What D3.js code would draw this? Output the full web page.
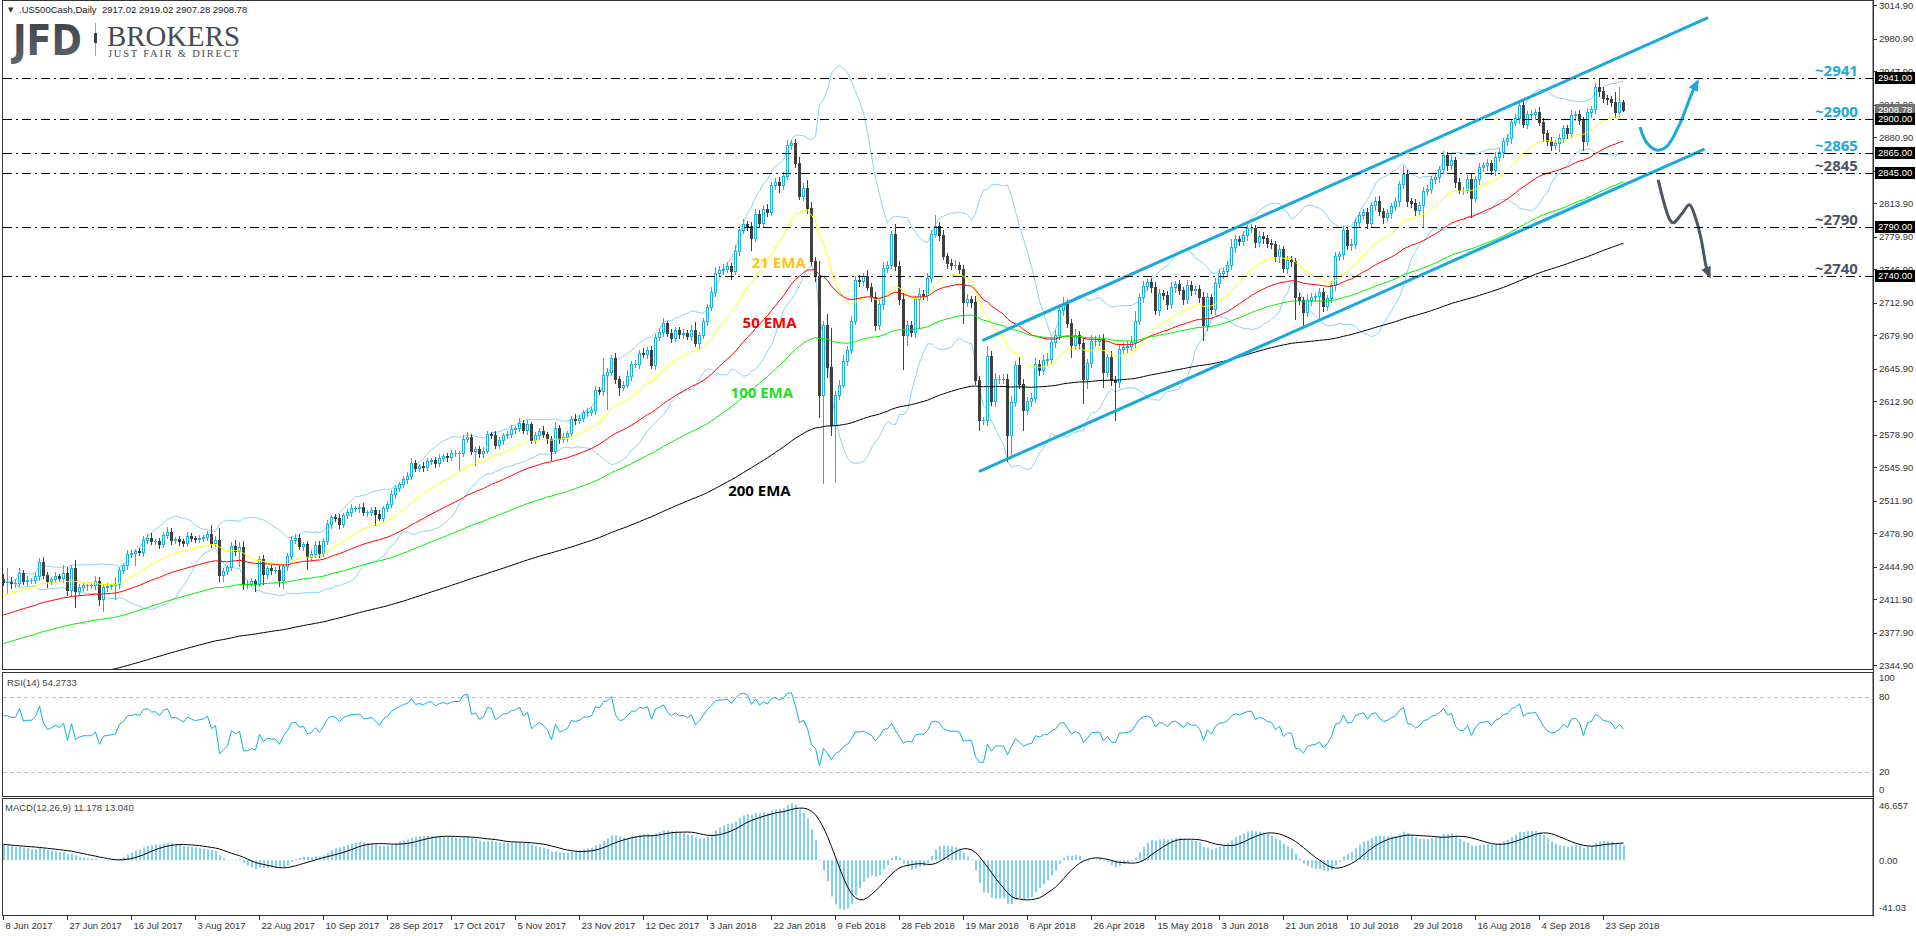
<!DOCTYPE html>
<html><head><meta charset="utf-8">
<script src="https://cdn.jsdelivr.net/npm/d3@7"></script>
<style>html,body{margin:0;padding:0;background:#fff;overflow:hidden}</style>
</head><body>
<svg id="c" width="1916" height="936"></svg>
<script>
// ---------------- DATA ----------------
const closes = [
2430,2430,2429,2429,2439,2431,2432,2432,2436,2450,
2437,2431,2433,2436,2434,2439,2421,2444,2420,2424,
2426,2426,2426,2431,2412,2424,2425,2426,2427,2442,
2447,2458,2459,2461,2460,2472,2474,2471,2471,2468,
2477,2480,2472,2473,2471,2469,2476,2474,2473,2474,
2475,2478,2469,2472,2437,2441,2445,2466,2461,2465,
2428,2428,2431,2428,2453,2438,2444,2442,2442,2432,
2446,2456,2472,2474,2466,2468,2455,2458,2467,2459,
2471,2488,2496,2494,2488,2498,2501,2505,2505,2506,
2501,2501,2503,2499,2495,2505,2509,2519,2525,2529,
2534,2537,2550,2545,2547,2546,2552,2553,2550,2555,
2557,2556,2560,2561,2561,2575,2577,2563,2565,2560,
2563,2580,2579,2569,2574,2579,2580,2585,2586,2591,
2584,2590,2574,2579,2583,2580,2575,2563,2586,2575,
2577,2581,2595,2594,2596,2602,2602,2604,2624,2623,
2640,2643,2657,2636,2628,2630,2639,2651,2651,2662,
2661,2665,2650,2678,2683,2692,2682,2677,2685,2681,
2682,2679,2685,2672,2680,2694,2709,2724,2743,2746,
2747,2750,2745,2766,2787,2793,2791,2779,2803,2794,
2808,2805,2833,2836,2833,2842,2873,2875,2855,2821,
2830,2809,2755,2740,2619,2690,2648,2589,2619,2630,
2654,2665,2695,2736,2735,2740,2729,2719,2690,2712,
2748,2751,2783,2750,2717,2680,2690,2683,2717,2722,
2721,2738,2783,2791,2782,2761,2753,2751,2751,2747,
2714,2717,2714,2635,2594,2594,2659,2613,2636,2636,
2636,2579,2612,2650,2631,2604,2613,2616,2651,2645,
2655,2656,2673,2680,2706,2712,2692,2670,2680,2672,
2636,2652,2674,2674,2676,2643,2658,2635,2633,2666,
2668,2669,2673,2695,2719,2730,2734,2729,2706,2723,
2721,2712,2729,2732,2726,2717,2731,2726,2727,2719,
2690,2719,2707,2733,2743,2745,2751,2770,2778,2776,
2782,2789,2789,2775,2781,2779,2774,2773,2760,2768,
2748,2756,2755,2719,2716,2704,2716,2719,2720,2724,
2710,2718,2731,2760,2763,2787,2772,2773,2795,2802,
2805,2794,2812,2816,2806,2800,2804,2811,2816,2834,
2844,2816,2814,2807,2812,2826,2829,2839,2841,2849,
2863,2853,2858,2836,2828,2828,2839,2819,2839,2851,
2853,2855,2848,2861,2866,2877,2880,2897,2901,2914,
2895,2905,2905,2907,2897,2885,2877,2873,2875,2880,
2890,2885,2904,2905,2899,2877,2907,2910,2932,2928,
2921,2920,2917,2907,2917.02,2908.78
];
const firstOpen = 2433;
const upperWick = [
5,14,5,4,5,3,4,2,4,4, 5,3,2,4,2,8,6,3,8,4, 3,2,3,5,4,3,4,2,8,3, 2,4,3,2,3,4,4,5,2,3,
3,5,4,2,3,2,4,3,2,3, 2,3,9,4,12,3,2,4,6,5, 6,4,3,2,3,4,2,3,3,5, 2,3,4,4,4,2,3,4,4,4,
3,4,2,3,5,2,3,4,2,3, 4,2,3,3,4,2,3,4,3,2, 3,4,5,3,2,4,3,2,3,4, 2,3,4,3,2,4,5,3,2,3,
4,3,2,4,3,2,3,4,2,5, 3,4,2,3,3,5,2,3,6,3, 4,2,3,5,3,2,4,3,5,3, 17,4,3,5,3,4,6,3,4,3,
5,3,4,3,4,6,3,4,3,3, 4,3,5,8,3,4,3,5,6,4, 5,4,3,6,4,5,3,4,5,4, 4,5,3,4,5,4,5,3,4,6,
5,8,6,4,15,4,12,39,4,5, 6,4,5,4,5,3,6,4,5,4, 6,4,3,10,5,6,4,5,3,6, 4,5,4,11,4,5,3,4,5,3,
4,5,3,6,4,3,10,5,6,4, 5,5,6,4,8,5,4,5,6,4, 5,6,4,5,6,7,4,5,6,4, 5,4,6,5,4,5,3,6,4,5,
4,5,6,10,4,5,3,4,5,4, 3,4,5,3,4,3,5,4,3,4, 5,4,3,5,4,3,4,8,4,3, 4,3,4,3,5,4,3,4,3,4,
3,4,5,3,4,3,5,4,3,4, 4,3,4,5,3,4,3,5,4,3, 3,4,3,4,5,3,4,3,4,3, 8,4,3,4,3,5,4,3,4,3,
4,3,5,3,4,3,4,5,3,4, 3,4,3,5,4,3,4,3,4,5, 4,3,4,3,5,4,3,4,3,4, 3,4,5,3,4,3,4,3,4,8,
4,3,3,10,15,2
];
const lowerWick = [
4,12,6,5,4,3,5,3,3,4, 3,7,4,3,3,4,5,6,16,4, 4,5,3,4,6,12,4,3,14,4, 3,4,3,12,3,4,3,3,3,4,
3,3,4,3,4,3,3,3,3,3, 3,3,4,3,6,6,3,3,4,15, 6,5,3,8,3,10,4,4,3,7, 9,4,3,3,3,4,12,3,3,4,
3,3,4,3,4,3,3,4,3,4, 3,4,3,12,3,4,3,3,4,3, 3,4,3,3,3,4,3,3,4,3, 3,4,3,3,18,4,3,4,15,4,
4,3,3,3,3,4,3,3,4,3, 3,4,3,3,4,3,4,10,3,4, 3,4,3,4,3,3,4,3,4,3, 4,35,3,4,9,4,3,4,3,4,
3,4,3,4,3,4,3,4,3,4, 4,3,4,3,5,3,4,3,4,3, 4,3,8,3,4,3,4,12,3,4, 3,4,3,4,8,4,3,4,4,3,
4,5,4,5,22,89,10,10,58,4, 3,4,3,4,5,4,3,4,5,4, 5,4,3,4,5,34,10,4,5,30, 4,5,4,3,5,4,5,4,3,4,
22,4,5,4,10,4,5,4,5,4, 4,27,20,4,5,20,4,5,4,5, 4,5,4,5,4,5,4,12,4,5, 25,10,4,5,4,15,4,5,39,5,
4,5,4,5,4,5,4,5,4,5, 4,5,4,5,4,5,4,5,4,5, 15,5,4,5,4,5,4,4,5,4, 4,5,4,5,4,5,4,4,5,6,
4,5,5,22,4,14,4,5,4,24, 5,4,4,5,4,6,4,5,4,5, 4,5,4,5,4,6,4,5,4,5, 4,5,4,5,4,22,4,5,4,5,
4,5,4,5,4,5,4,19,4,5, 4,5,4,5,4,5,4,5,4,5, 4,5,4,5,4,8,4,5,4,8, 4,5,4,5,4,9,4,5,4,5,
4,5,4,5,4,1.5
];
const dateLabels = ["8 Jun 2017","27 Jun 2017","16 Jul 2017","3 Aug 2017","22 Aug 2017","10 Sep 2017",
"28 Sep 2017","17 Oct 2017","5 Nov 2017","23 Nov 2017","12 Dec 2017","3 Jan 2018","22 Jan 2018",
"9 Feb 2018","28 Feb 2018","19 Mar 2018","8 Apr 2018","26 Apr 2018","15 May 2018","3 Jun 2018",
"21 Jun 2018","10 Jul 2018","29 Jul 2018","16 Aug 2018","4 Sep 2018","23 Sep 2018"];
const barsPerDateLabel = 16;
const priceTicks = [3014.90,2980.90,2947.90,2913.90,2880.90,2846.90,2813.90,2779.90,2746.90,2712.90,
2679.90,2645.90,2612.90,2578.90,2545.90,2511.90,2478.90,2444.90,2411.90,2377.90,2344.90];
const rsiTicks = [100,80,20,0];
const rsiLevels = [80,20];
const macdTicks = [46.657,0.00,-41.03];
const levels = [2941,2900,2865,2845,2790,2740];
const levelUpSide = [true,true,true,false,false,false];
const emaPeriods = [21,50,100,200];
const emaSeeds = [2416,2396,2367,2313];
const emaNames = ["21 EMA","50 EMA","100 EMA","200 EMA"];
const emaLabelBar = [187.2,184.9,181.9,181.3];
const emaLabelPrice = [2748,2687,2616.6,2516.8];
const rsiSeedGain = 2.6, rsiSeedLoss = 1.4;
const macdSeed12 = 2427, macdSeed26 = 2415;
const channelUpper = [[245.1,2675.2],[426,3002]];
const channelLower = [[244.25,2542.2],[425.1,2868.6]];
const arrowUp = [[409.25,2891.5],[410.9,2875.7],[413.4,2868.1],[415.9,2871.5],[419.25,2895.2],[422.2,2925.7],[423.6,2937.5]];
const arrowDown = [[413.8,2837.7],[416.75,2797.0],[417.6,2794.2],[419.8,2803.9],[421.6,2812.5],[423.3,2797.0],[424.6,2776.3],[425.8,2749.6],[426.6,2740.2]];
const titleText = ".US500Cash,Daily  2917.02 2919.02 2907.28 2908.78";
const rsiTitle = "RSI(14) 54.2733";
const macdTitle = "MACD(12,26,9) 11.178 13.040";

// ---------------- DERIVED ----------------
const n = closes.length;
const opens = closes.map((c,i)=> i===0 ? firstOpen : closes[i-1]);
const highs = closes.map((c,i)=> Math.max(opens[i],c) + upperWick[i]);
const lows  = closes.map((c,i)=> Math.min(opens[i],c) - lowerWick[i]);
function ema(src, p, seed){ const a=2/(p+1); let e=seed; return src.map((v,i)=>{ if(i>0) e = e + a*(v-e); return e; }); }
const emas = emaPeriods.map((p,k)=> ema(closes,p,emaSeeds[k]));
const bbUp=[], bbLo=[];
for(let i=0;i<n;i++){ const s=closes.slice(Math.max(0,i-19),i+1); const m=d3.mean(s); const sd=Math.sqrt(d3.mean(s,v=>(v-m)*(v-m))); bbUp.push(m+2*sd); bbLo.push(m-2*sd); }
const rsi=[]; { let ag=rsiSeedGain, al=rsiSeedLoss; for(let i=0;i<n;i++){ if(i>0){ const ch=closes[i]-closes[i-1]; ag=(ag*13+Math.max(ch,0))/14; al=(al*13+Math.max(-ch,0))/14; } rsi.push(100-100/(1+ag/al)); } }
const e12=ema(closes,12,macdSeed12), e26=ema(closes,26,macdSeed26);
const macd=e12.map((v,i)=>v-e26[i]);
const signal=macd.map((v,i)=> d3.mean(macd.slice(Math.max(0,i-8),i+1)));

// ---------------- LAYOUT ----------------
const svg=d3.select('#c');
const AXX=1873;
const mainTop=0, mainBot=669, rsiTop=672, rsiBot=796, macdTop=798, macdBot=915;
const x=d3.scaleLinear().domain([0,400]).range([3,1603]);
const y=d3.scaleLinear().domain([2341.2,3020.4]).range([mainBot,mainTop]);
const yr=d3.scaleLinear().domain([0,100]).range([797,672]);
const ym=d3.scaleLinear().domain([-41.03,46.657]).range([macdBot,macdTop]);
const FONT="'Liberation Sans', Arial, sans-serif";
const FS=9.5;
const BULL="#18b2e4", BEAR="#404040", BB="#8fd0f5", CH="#1aa9dc", DARKLBL="#4b5563";

const defs=svg.append('defs');
[['cm',mainTop,mainBot],['cr',rsiTop,rsiBot],['cd',macdTop,macdBot]].forEach(([id,t,b])=>{
  defs.append('clipPath').attr('id',id).append('rect').attr('x',2).attr('y',t).attr('width',AXX-2).attr('height',b-t);
});
const gr=defs.append('linearGradient').attr('id','jfdg').attr('x1',0).attr('y1',0).attr('x2',0).attr('y2',1);
gr.append('stop').attr('offset','0%').attr('stop-color','#3a3f46');
gr.append('stop').attr('offset','100%').attr('stop-color','#60666e');
function marker(id,color){
  defs.append('marker').attr('id',id).attr('viewBox','0 0 12 10').attr('refX',9).attr('refY',5)
   .attr('markerWidth',12).attr('markerHeight',10).attr('markerUnits','userSpaceOnUse').attr('orient','auto')
   .append('path').attr('d','M0,0 L12,5 L0,10 Z').attr('fill',color);
}
marker('mUp',CH); marker('mDn',DARKLBL);

// frames
const fr=svg.append('g').attr('stroke','#333').attr('stroke-width',1).attr('fill','none');
[[mainTop,mainBot],[rsiTop,rsiBot],[macdTop,macdBot]].forEach(([t,b])=>{
  fr.append('rect').attr('x',2.5).attr('y',t+0.5).attr('width',AXX-2.5).attr('height',b-t);
});

// main panel
const gm=svg.append('g').attr('clip-path','url(#cm)');
const lineBB=d3.line().x((d,i)=>x(i)+0.5).y(d=>y(d));
gm.append('path').datum(bbUp).attr('d',lineBB).attr('fill','none').attr('stroke',BB).attr('stroke-width',1);
gm.append('path').datum(bbLo).attr('d',lineBB).attr('fill','none').attr('stroke',BB).attr('stroke-width',1);

// candles
const cg=gm.append('g');
closes.forEach((c,i)=>{
  const o=opens[i], bull=c>=o, col=bull?BULL:BEAR, xi=Math.round(x(i));
  cg.append('line').attr('x1',xi+0.5).attr('x2',xi+0.5).attr('y1',Math.round(y(highs[i]))).attr('y2',Math.round(y(lows[i]))+1).attr('stroke',col);
  const yt=Math.round(y(Math.max(o,c))), yb=Math.round(y(Math.min(o,c)));
  if(yb-yt<1){ cg.append('line').attr('x1',xi-1).attr('x2',xi+2).attr('y1',yt+0.5).attr('y2',yt+0.5).attr('stroke',col); }
  else cg.append('rect').attr('x',xi-0.5).attr('y',yt+0.5).attr('width',2).attr('height',yb-yt).attr('fill',bull?'#fff':BEAR).attr('stroke',col);
});
const emaCols=["#ffff00","#ff0000","#00ee00","#000000"];
emas.forEach((e,k)=>{ gm.append('path').datum(e).attr('d',lineBB).attr('fill','none').attr('stroke',emaCols[k]).attr('stroke-width',1); });

// level lines
levels.forEach(v=>{
  const yy=Math.round(y(v))+0.5;
  svg.append('line').attr('x1',3).attr('x2',AXX).attr('y1',yy).attr('y2',yy).attr('stroke','#000').attr('stroke-width',1).attr('stroke-dasharray','9,4,2,4');
});
// channel
[channelUpper,channelLower].forEach(cl=>{
  gm.append('line').attr('x1',x(cl[0][0])).attr('y1',y(cl[0][1])).attr('x2',x(cl[1][0])).attr('y2',y(cl[1][1]))
   .attr('stroke',CH).attr('stroke-width',3).attr('stroke-linecap','round');
});
// arrows
const curve=d3.line().x(d=>x(d[0])).y(d=>y(d[1])).curve(d3.curveCatmullRom);
gm.append('path').datum(arrowUp).attr('d',curve).attr('fill','none').attr('stroke',CH).attr('stroke-width',3).attr('marker-end','url(#mUp)');
gm.append('path').datum(arrowDown).attr('d',curve).attr('fill','none').attr('stroke',DARKLBL).attr('stroke-width',3).attr('marker-end','url(#mDn)');

// EMA labels
const emaLblCols=["#ffc20e","#ff0000","#22dd22","#000000"];
emaNames.forEach((t,k)=>{
  svg.append('text').attr('x',x(emaLabelBar[k])).attr('y',y(emaLabelPrice[k])).attr('font-family',"'Open Sans', sans-serif").attr('font-weight',700).attr('font-size',15).attr('fill',emaLblCols[k]).text(t);
});
// level labels
levels.forEach((v,k)=>{
  svg.append('text').attr('x',1815).attr('y',Math.round(y(v))-2).attr('font-family',"'Open Sans', sans-serif").attr('font-weight',700).attr('font-size',15)
   .attr('fill',levelUpSide[k]?CH:DARKLBL).text('~'+v);
});

// right axis main
const ax=svg.append('g');
ax.append('line').attr('x1',AXX+0.5).attr('x2',AXX+0.5).attr('y1',0).attr('y2',macdBot+1).attr('stroke','#333');
function rtick(yy,label){
  ax.append('line').attr('x1',AXX).attr('x2',AXX+4).attr('y1',Math.round(yy)+0.5).attr('y2',Math.round(yy)+0.5).attr('stroke','#333');
  ax.append('text').attr('x',AXX+6).attr('y',yy).attr('dy','0.35em').attr('font-family',FONT).attr('font-size',FS).attr('fill','#333').text(label);
}
priceTicks.forEach(v=>rtick(y(v),v.toFixed(2)));
// price boxes
function pbox(v,fill){
  const yy=Math.round(y(v));
  ax.append('rect').attr('x',AXX+2).attr('y',yy-6).attr('width',40).attr('height',12).attr('fill',fill);
  ax.append('text').attr('x',AXX+5).attr('y',yy).attr('dy','0.35em').attr('font-family',FONT).attr('font-size',FS).attr('fill','#fff').text(v.toFixed(2));
}
pbox(closes[n-1],'#707070');
levels.forEach(v=>pbox(v,'#000'));

// RSI
const gR=svg.append('g').attr('clip-path','url(#cr)');
rsiLevels.forEach(v=>gR.append('line').attr('x1',3).attr('x2',AXX).attr('y1',Math.round(yr(v))+0.5).attr('y2',Math.round(yr(v))+0.5).attr('stroke','#c0c0c0').attr('stroke-dasharray','4,3'));
gR.append('path').datum(rsi).attr('d',d3.line().x((d,i)=>x(i)+0.5).y(d=>yr(d))).attr('fill','none').attr('stroke','#14acd8').attr('stroke-width',1);
rsiTicks.forEach(v=>{ const yy=Math.min(Math.max(yr(v),678),790); ax.append('text').attr('x',AXX+6).attr('y',yy).attr('dy','0.35em').attr('font-family',FONT).attr('font-size',FS).attr('fill','#333').text(v); });
svg.append('text').attr('x',7).attr('y',686).attr('font-family',FONT).attr('font-size',FS).attr('fill','#444').text(rsiTitle);

// MACD
const gD=svg.append('g').attr('clip-path','url(#cd)');
macd.forEach((v,i)=>{ gD.append('line').attr('x1',x(i)+1).attr('x2',x(i)+1).attr('y1',ym(0)).attr('y2',ym(v)).attr('stroke','#7fd0f0').attr('stroke-width',2); });
gD.append('path').datum(signal).attr('d',d3.line().x((d,i)=>x(i)+0.5).y(d=>ym(d))).attr('fill','none').attr('stroke','#000').attr('stroke-width',1);
macdTicks.forEach(v=>{ const yy=Math.min(Math.max(ym(v),806),908); ax.append('text').attr('x',AXX+6).attr('y',yy).attr('dy','0.35em').attr('font-family',FONT).attr('font-size',FS).attr('fill','#333').text(v===0?'0.00':String(v)); });
svg.append('text').attr('x',5).attr('y',811).attr('font-family',FONT).attr('font-size',FS).attr('fill','#444').text(macdTitle);

// x axis
dateLabels.forEach((t,k)=>{
  const xi=Math.round(x(k*barsPerDateLabel))+0.5;
  ax.append('line').attr('x1',xi).attr('x2',xi).attr('y1',macdBot).attr('y2',macdBot+5).attr('stroke','#333');
  ax.append('text').attr('x',xi+2).attr('y',929).attr('font-family',FONT).attr('font-size',FS).attr('fill','#333').text(t);
});

// title & logo
svg.append('text').attr('x',8).attr('y',12).attr('font-family','DejaVu Sans').attr('font-size',7).attr('fill','#333').text('▼');
svg.append('text').attr('x',19).attr('y',13).attr('font-family',FONT).attr('font-size',FS).attr('fill','#222').style('white-space','pre').text(titleText);
svg.append('text').attr('x',13).attr('y',55).attr('font-family',"'DejaVu Sans', sans-serif").attr('font-weight','bold').attr('font-size',43)
  .attr('textLength',69).attr('lengthAdjust','spacingAndGlyphs').attr('fill','url(#jfdg)').text('JFD');
svg.append('line').attr('x1',95.5).attr('x2',95.5).attr('y1',23).attr('y2',56).attr('stroke','#a0a4a8');
svg.append('rect').attr('x',94).attr('y',33).attr('width',3).attr('height',10).attr('fill','#3a3f46');
svg.append('text').attr('x',107).attr('y',46).attr('font-family',"'Liberation Serif', serif").attr('font-size',30)
  .attr('textLength',133).attr('lengthAdjust','spacingAndGlyphs').attr('fill','#464b53').text('BROKERS');
svg.append('text').attr('x',108).attr('y',57).attr('font-family',"'Liberation Serif', serif").attr('font-size',10.5)
  .attr('textLength',131).attr('lengthAdjust','spacing').attr('fill','#464b53').text('JUST FAIR & DIRECT');
</script>
</body></html>
